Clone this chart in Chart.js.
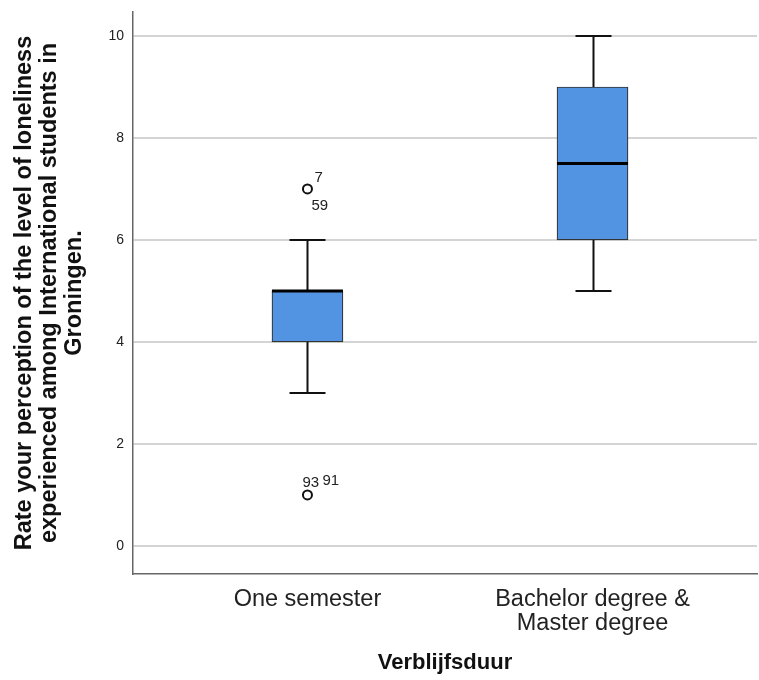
<!DOCTYPE html>
<html>
<head>
<meta charset="utf-8">
<script src="https://cdn.jsdelivr.net/npm/chart.js@4.4.0/dist/chart.umd.min.js"></script>
<style>
  body { margin: 0; background: #fff; }
</style>
</head>
<body>
<canvas id="boxplot" width="759" height="680"></canvas>
<script>
const categories = [['One semester'], ['Bachelor degree &', 'Master degree']];
const groupPos = [1, 2];
const whiskerLow = [3, 5];
const q1 = [4, 6];
const medians = [5, 7.5];
const q3 = [5, 9];
const whiskerHigh = [6, 10];
const outlierGroup = [1, 1];
const outlierValue = [7, 1];
const outlierCases = [['7', '59'], ['93', '91']];
const yTicks = [0, 2, 4, 6, 8, 10];

const FONT = "'Liberation Sans', Arial, sans-serif";

// where the case numbers sit around each outlier circle (px)
const caseOffsets = [
  [[7, -7], [4, 21]],
  [[-5, -8], [15, -10]]
];

const boxExtras = {
  id: 'boxExtras',
  beforeDatasetsDraw(chart) {
    const { ctx, scales: { x, y } } = chart;
    ctx.save();
    ctx.strokeStyle = '#111';
    ctx.lineWidth = 2;
    groupPos.forEach((g, i) => {
      const cx = Math.round(x.getPixelForValue(g)) + 0.5;
      const capHalf = 18;
      const lo = y.getPixelForValue(whiskerLow[i]);
      const hi = y.getPixelForValue(whiskerHigh[i]);
      ctx.beginPath();
      ctx.moveTo(cx, y.getPixelForValue(q1[i]));
      ctx.lineTo(cx, lo);
      ctx.moveTo(cx, y.getPixelForValue(q3[i]));
      ctx.lineTo(cx, hi);
      ctx.moveTo(cx - capHalf, lo);
      ctx.lineTo(cx + capHalf, lo);
      ctx.moveTo(cx - capHalf, hi);
      ctx.lineTo(cx + capHalf, hi);
      ctx.stroke();
    });
    ctx.restore();
  },
  afterDatasetsDraw(chart) {
    const { ctx, scales: { x, y } } = chart;
    ctx.save();
    ctx.strokeStyle = '#000';
    ctx.lineWidth = 3;
    groupPos.forEach((g, i) => {
      const cx = x.getPixelForValue(g);
      const my = y.getPixelForValue(medians[i]);
      ctx.beginPath();
      ctx.moveTo(cx - 35.5, my);
      ctx.lineTo(cx + 35.5, my);
      ctx.stroke();
    });

    ctx.fillStyle = '#222';
    ctx.font = '15px ' + FONT;
    ctx.textBaseline = 'alphabetic';
    ctx.textAlign = 'left';
    outlierGroup.forEach((g, i) => {
      const px = x.getPixelForValue(g);
      const py = y.getPixelForValue(outlierValue[i]);
      outlierCases[i].forEach((label, j) => {
        const [dx, dy] = caseOffsets[i][j];
        ctx.fillText(label, px + dx, py + dy);
      });
    });
    ctx.restore();
  }
};

new Chart(document.getElementById('boxplot'), {
  data: {
    datasets: [
      {
        type: 'bar',
        data: groupPos.map((g, i) => ({ x: g, y: [q1[i], q3[i]] })),
        backgroundColor: '#5294e2',
        borderColor: '#333',
        borderWidth: 1.2,
        borderSkipped: false,
        barThickness: 71,
        order: 2
      },
      {
        type: 'scatter',
        data: outlierGroup.map((g, i) => ({ x: g, y: outlierValue[i] })),
        pointStyle: 'circle',
        pointRadius: 4.5,
        borderWidth: 2,
        borderColor: '#111',
        backgroundColor: '#fff',
        order: 1
      }
    ]
  },
  options: {
    responsive: false,
    animation: false,
    layout: { autoPadding: false, padding: { top: 12, right: 2, left: 0, bottom: 0 } },
    plugins: {
      legend: { display: false },
      tooltip: { enabled: false }
    },
    scales: {
      x: {
        type: 'linear',
        offset: false,
        min: 0.388,
        max: 2.577,
        afterBuildTicks: (scale) => { scale.ticks = groupPos.map(v => ({ value: v })); },
        afterFit: (scale) => { scale.height = 106; },
        grid: { display: false, drawTicks: false },
        border: { display: true, color: '#666', width: 1.5 },
        ticks: {
          padding: 14,
          color: '#222',
          font: { family: FONT, size: 23.5, lineHeight: 1.02 },
          maxRotation: 0,
          autoSkip: false,
          callback: (value) => categories[value - 1]
        },
        title: {
          display: true,
          text: 'Verblijfsduur',
          color: '#111',
          font: { family: FONT, size: 22, weight: 'bold' },
          padding: { top: 0, bottom: 4 }
        }
      },
      y: {
        type: 'linear',
        min: -0.55,
        max: 10.47,
        afterBuildTicks: (scale) => { scale.ticks = yTicks.map(v => ({ value: v })); },
        afterFit: (scale) => {
          scale.width = 133;
          scale.paddingTop = 0;
          scale.paddingBottom = 0;
        },
        grid: { color: '#d4d4d4', lineWidth: 2, drawTicks: false },
        border: { display: true, color: '#666', width: 1.5 },
        ticks: {
          padding: 9,
          color: '#222',
          font: { family: FONT, size: 14 }
        },
        title: {
          display: true,
          text: [
            'Rate your perception of the level of loneliness',
            'experienced among International students in',
            'Groningen.'
          ],
          color: '#111',
          font: { family: FONT, size: 23.5, weight: 'bold', lineHeight: 1.06 },
          padding: { top: 12, bottom: 0 }
        }
      }
    }
  },
  plugins: [boxExtras]
});
</script>
</body>
</html>
